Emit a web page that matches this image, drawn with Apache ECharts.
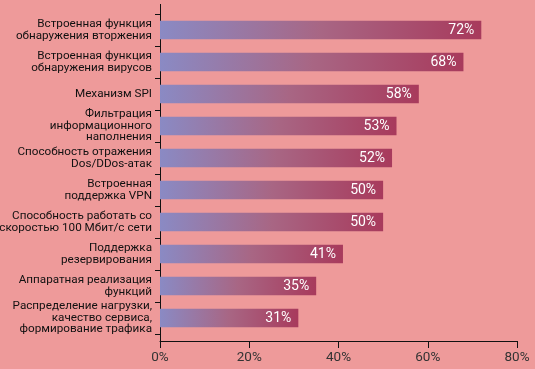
<!DOCTYPE html>
<html>
<head>
<meta charset="utf-8">
<script src="https://cdn.jsdelivr.net/npm/echarts@6/dist/echarts.min.js"></script>
<style>
html,body{margin:0;padding:0;background:#EE9A9A;}
#c{width:535px;height:369px;}
</style>
</head>
<body>
<div id="c"></div>
<script>
const categories = [
  "Встроенная функция\nобнаружения вторжения",
  "Встроенная функция\nобнаружения вирусов",
  "Механизм SPI",
  "Фильтрация\nинформационного\nнаполнения",
  "Способность отражения\nDos/DDos-атак",
  "Встроенная\nподдержка VPN",
  "Способность работать со\nскоростью 100 Мбит/с сети",
  "Поддержка\nрезервирования",
  "Аппаратная реализация\nфункций",
  "Распределение нагрузки,\nкачество сервиса,\nформирование трафика"
];
const values = [72, 68, 58, 53, 52, 50, 50, 41, 35, 31];
const xTicks = [0, 20, 40, 60, 80];

const chart = echarts.init(document.getElementById('c'), null, {renderer: 'canvas'});
chart.setOption({
  backgroundColor: '#EE9A9A',
  animation: false,
  grid: {left: 160, top: 14, width: 357, height: 320, containLabel: false, outerBoundsMode: 'none'},
  xAxis: {
    type: 'value', min: xTicks[0], max: xTicks[xTicks.length - 1], interval: 20,
    offset: 7,
    axisLine: {show: true, lineStyle: {color: '#111', width: 1}},
    axisTick: {show: true, length: 7, lineStyle: {color: '#111'}},
    splitLine: {show: false},
    axisLabel: {formatter: '{value}%', color: '#333', fontSize: 13.5, margin: 10,
      fontFamily: "Roboto, sans-serif"}
  },
  yAxis: {
    type: 'category', data: categories, inverse: true,
    axisLine: {show: true, lineStyle: {color: '#111', width: 1}},
    axisTick: {show: true, length: 5, lineStyle: {color: '#111', width: 1}},
    axisLabel: {color: '#111', fontSize: 11.7, lineHeight: 11.5, margin: 8, fontFamily: "Roboto, sans-serif"}
  },
  graphic: [{
    type: 'line', shape: {x1: 160.5, y1: 4, x2: 160.5, y2: 341},
    style: {stroke: '#111', lineWidth: 1}, silent: true
  }],
  series: [{
    type: 'bar', data: values, barWidth: 18.5,
    itemStyle: {
      color: new echarts.graphic.LinearGradient(0, 0, 1, 0, [
        {offset: 0, color: '#8A8AC4'},
        {offset: 0.5, color: '#A86684'},
        {offset: 1, color: '#A83A5C'}
      ])
    },
    label: {show: true, position: 'insideRight', distance: 7, formatter: '{c}%',
      color: '#fff', fontSize: 14, fontFamily: "Roboto, sans-serif"}
  }]
});
</script>
</body>
</html>
